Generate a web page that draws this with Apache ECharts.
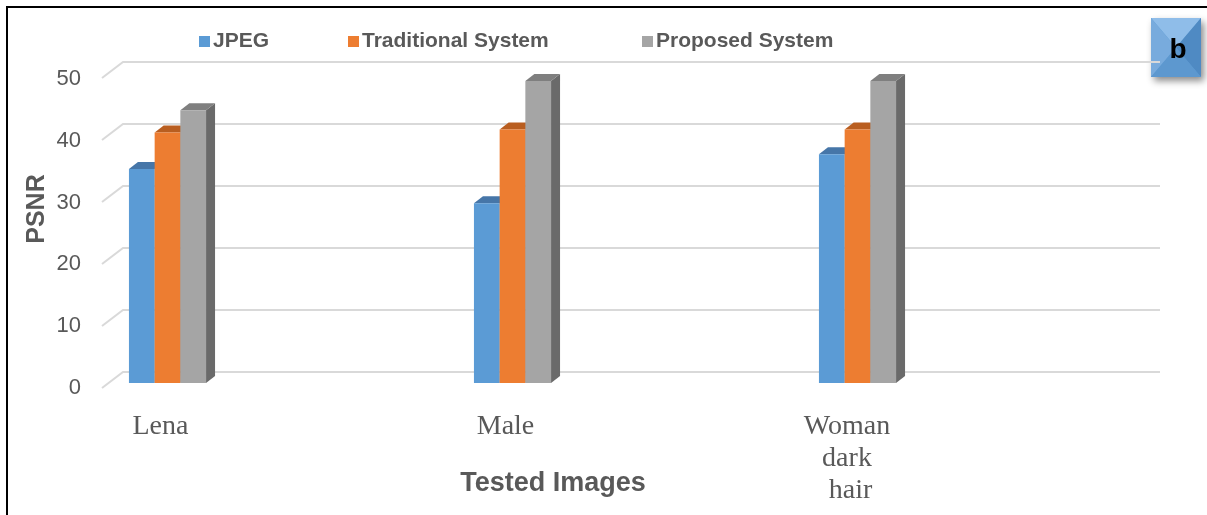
<!DOCTYPE html>
<html>
<head>
<meta charset="utf-8">
<script src="https://cdn.jsdelivr.net/npm/echarts@6/dist/echarts.min.js"></script>
<style>
  html, body { margin: 0; padding: 0; background: #fff; }
  #chart { width: 1207px; height: 515px; }
</style>
</head>
<body>
<div id="chart"></div>
<script>
// PSNR per tested image, three compression systems
const categories = ['Lena', 'Male', 'Woman dark hair'];
const jpeg = [34.5, 29.0, 36.9];
const traditional = [40.4, 40.9, 40.9];
const proposed = [44.0, 48.7, 48.7];
const yTicks = [0, 10, 20, 30, 40, 50];

const seriesNames = ['JPEG', 'Traditional System', 'Proposed System'];
const seriesValues = [jpeg, traditional, proposed];
// front, top, side shades of each column
const palette = [
  { front: '#5b9bd5', top: '#4676a8', side: '#3f6c99' },
  { front: '#ed7d31', top: '#b95e20', side: '#a9541c' },
  { front: '#a5a5a5', top: '#7f7f7f', side: '#6a6a6a' }
];
const legendLeft = [199, 348, 642];

const BAR_W = 25.7;   // front face width, px
const DEPTH_X = 9;    // extrusion of the 3D columns
const DEPTH_Y = -7;
const TEXT = '#595959';
const SANS = 'Liberation Sans, Arial, sans-serif';

const chart = echarts.init(document.getElementById('chart'));

function columnRenderer(si) {
  const c = palette[si];
  return function (params, api) {
    const idx = api.value(0);
    const val = api.value(1);
    const base = api.coord([idx, 0]);
    const top = api.coord([idx, val]);
    const x0 = base[0] + (si - 1.5) * BAR_W;
    const x1 = x0 + BAR_W;
    const ty = top[1], by = base[1];
    return {
      type: 'group',
      children: [
        { type: 'polygon', shape: { points: [[x1, ty], [x1 + DEPTH_X, ty + DEPTH_Y], [x1 + DEPTH_X, by + DEPTH_Y], [x1, by]] },
          style: { fill: c.side } },
        { type: 'polygon', shape: { points: [[x0, ty], [x1, ty], [x1 + DEPTH_X, ty + DEPTH_Y], [x0 + DEPTH_X, ty + DEPTH_Y]] },
          style: { fill: c.top } },
        { type: 'rect', shape: { x: x0, y: ty, width: BAR_W, height: by - ty },
          style: { fill: c.front } }
      ]
    };
  };
}

// back-wall gridlines with their perspective stubs towards the front plane
function wallRenderer(params, api) {
  const v = api.value(0);
  const a = api.coord([0, v]);
  const b = api.coord([1, v]);
  return {
    type: 'polyline',
    shape: { points: [[a[0] - 21, a[1] + 16], a, b] },
    style: { stroke: '#d9d9d9', lineWidth: 2, fill: 'none' }
  };
}

const columnSeries = seriesNames.map((name, si) => ({
  name: name,
  type: 'custom',
  xAxisIndex: 1,
  yAxisIndex: 1,
  itemStyle: { color: palette[si].front },
  renderItem: columnRenderer(si),
  encode: { x: 0, y: 1 },
  data: seriesValues[si].map((v, i) => [i, v]),
  z: 3 + si
}));

const legends = seriesNames.map((name, si) => ({
  data: [name],
  left: legendLeft[si],
  top: 31,
  padding: 0,
  itemWidth: 11,
  itemHeight: 11,
  icon: 'rect',
  textStyle: { color: TEXT, fontSize: 21, fontWeight: 'bold', fontFamily: SANS, padding: [0, 0, 0, -2] }
}));

const option = {
  animation: false,
  backgroundColor: '#fff',
  legend: legends,
  grid: [
    // back wall
    { left: 123, right: 47, top: 62, bottom: 143 },
    // columns
    { left: 167.5, right: 349.5, top: 73, bottom: 132 },
    // front-plane value labels
    { left: 102, right: 47, top: 79, bottom: 127 }
  ],
  xAxis: [
    { gridIndex: 0, type: 'value', min: 0, max: 1, show: false },
    { gridIndex: 1, type: 'category', data: categories, boundaryGap: false,
      axisLine: { show: false }, axisTick: { show: false }, splitLine: { show: false },
      axisLabel: {
        color: TEXT, fontSize: 28, fontFamily: 'Liberation Serif, Times New Roman, serif',
        margin: 28, lineHeight: 32, width: 96, overflow: 'break', padding: [0, 14, 0, 0]
      } },
    { gridIndex: 2, type: 'value', min: 0, max: 1, show: false }
  ],
  yAxis: [
    { gridIndex: 0, type: 'value', min: 0, max: 50, interval: 10, show: false },
    { gridIndex: 1, type: 'value', min: 0, max: 50, interval: 10, show: false },
    { gridIndex: 2, type: 'value', min: 0, max: 50, interval: 10,
      axisLine: { show: false }, axisTick: { show: false }, splitLine: { show: false },
      axisLabel: { color: TEXT, fontSize: 22, margin: 21, fontFamily: SANS } }
  ],
  graphic: [
    { type: 'text', position: [553, 484], style: {
        text: 'Tested Images', x: 0, y: 0, fill: TEXT, fontSize: 27, fontWeight: 'bold',
        fontFamily: SANS, align: 'center', verticalAlign: 'middle' } },
    { type: 'text', position: [37.5, 209], rotation: Math.PI / 2, style: {
        text: 'PSNR', x: 0, y: 0, fill: TEXT, fontSize: 25, fontWeight: 'bold',
        fontFamily: SANS, align: 'center', verticalAlign: 'middle' } },
    // frame
    { type: 'rect', shape: { x: 7, y: 7, width: 1220, height: 540 },
      style: { fill: 'none', stroke: '#000', lineWidth: 2 }, z: 10 },
    // bevelled "b" badge
    { type: 'group', position: [1151, 18], z: 20, children: [
      { type: 'rect', shape: { x: 0, y: 0, width: 50, height: 59 },
        style: { fill: '#5b9bd5', shadowBlur: 7, shadowOffsetX: 3, shadowOffsetY: 4, shadowColor: 'rgba(0,0,0,0.45)' } },
      { type: 'polygon', shape: { points: [[0, 0], [50, 0], [25, 29.5]] }, style: { fill: '#8fbde9' } },
      { type: 'polygon', shape: { points: [[0, 0], [25, 29.5], [0, 59]] }, style: { fill: '#78abdd' } },
      { type: 'polygon', shape: { points: [[50, 0], [50, 59], [25, 29.5]] }, style: { fill: '#4f8ac3' } },
      { type: 'polygon', shape: { points: [[0, 59], [25, 29.5], [50, 59]] }, style: { fill: '#5d98cf' } },
      { type: 'text', style: { text: 'b', x: 27, y: 32, fill: '#000', fontSize: 28, fontWeight: 'bold',
          fontFamily: SANS, align: 'center', verticalAlign: 'middle' } }
    ] }
  ],
  series: [
    {
      name: 'wall',
      type: 'custom',
      xAxisIndex: 0,
      yAxisIndex: 0,
      renderItem: wallRenderer,
      encode: { y: 0 },
      data: yTicks.map(v => [v]),
      silent: true,
      z: 1
    }
  ].concat(columnSeries)
};

chart.setOption(option);
</script>
</body>
</html>
